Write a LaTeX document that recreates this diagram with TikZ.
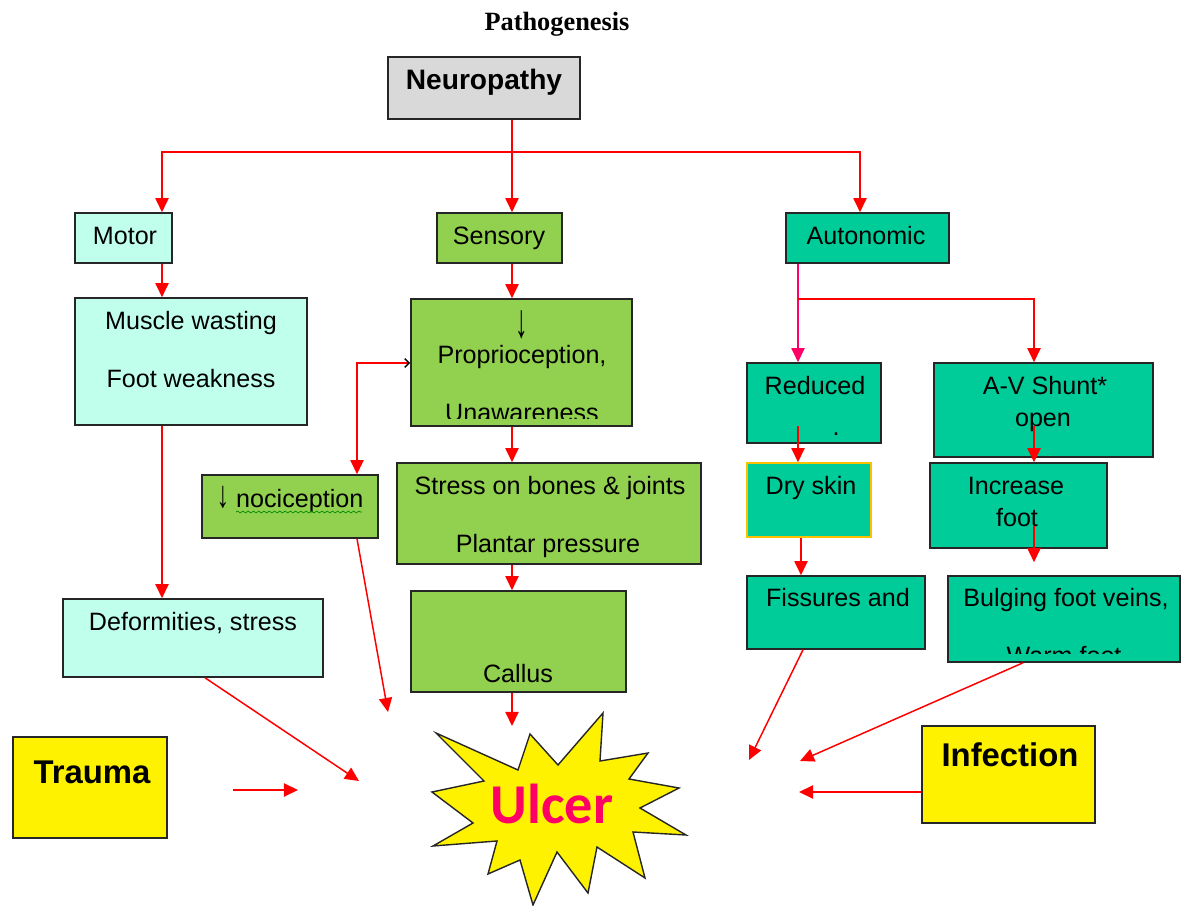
\documentclass[tikz,border=0pt]{standalone}
\usepackage{fontspec}
\setmainfont{Liberation Sans}
\newfontfamily\titlefont{Liberation Serif}
\newfontfamily\ulcerfont{Carlito}
\usetikzlibrary{arrows.meta,fit,calc,decorations.pathmorphing}

\definecolor{boxcyan}{RGB}{192,255,236}
\definecolor{boxgreen}{RGB}{146,208,80}
\definecolor{boxteal}{RGB}{0,204,153}
\definecolor{boxgray}{RGB}{217,217,217}
\definecolor{arrred}{RGB}{255,0,0}
\definecolor{arrpink}{RGB}{255,0,102}
\definecolor{skinedge}{RGB}{255,192,0}

\tikzset{
  box/.style={draw=black!85, line width=0.9pt, inner sep=0pt},
  cyanbox/.style={box, fill=boxcyan},
  greenbox/.style={box, fill=boxgreen},
  tealbox/.style={box, fill=boxteal},
  yellowbox/.style={box, fill=yellow},
  txt/.style={anchor=base, inner sep=0pt, font=\fontsize{14.3}{17}\selectfont},
  bigtxt/.style={anchor=base, inner sep=0pt, font=\fontsize{18.7}{22}\selectfont\bfseries},
  arr/.style={draw=arrred, line width=0.85pt, -{Triangle[length=8pt,width=7.5pt]}},
}
\newcommand\downarr[1]{\scalebox{1}[#1]{↓}}

\begin{document}
\begin{tikzpicture}[x=0.02cm,y=-0.02cm] % one unit = one pixel of the reference
    \fill[white] (0,0) rectangle (1181,906);
    \useasboundingbox (0,0) rectangle (1181,906);

    \node[anchor=base, inner sep=0pt, font=\titlefont\bfseries\fontsize{15}{18}\selectfont] (title) at (557,31) {Pathogenesis};

    % top row
    \node[box, fill=boxgray, fit={(388,57) (580,119)}] (neuro) {};
    \node[txt, font=\fontsize{16}{19}\selectfont\bfseries] (neuro-t) at (484,90) {Neuropathy};
    \node[cyanbox, fit={(75,213) (172,263)}] (motor) {};
    \node[txt] (motor-t) at (125,244) {Motor};
    \node[greenbox, fit={(437,213) (562,263)}] (sensory) {};
    \node[txt] (sensory-t) at (499,244) {Sensory};
    \node[tealbox, fit={(786,213) (949,263)}] (autonomic) {};
    \node[txt] (autonomic-t) at (866,244) {Autonomic};

    % motor branch
    \node[cyanbox, fit={(75,298) (307,425)}] (muscle) {};
    \node[txt] (muscle-t1) at (191,329) {Muscle wasting};
    \node[txt] (muscle-t2) at (191,387) {Foot weakness};
    \node[cyanbox, fit={(63,599) (323,677)}] (deform) {};
    \node[txt] (deform-t) at (193,630) {Deformities, stress};

    % sensory branch
    \node[greenbox, fit={(411,299) (632,426)}] (proprio) {};
    \node[txt, anchor=center] (proprio-t0) at (522,325) {\downarr{1.9}};
    \node[txt] (proprio-t1) at (522,363) {Proprioception,};
    \begin{scope}
        \clip (411,299) rectangle (632,418); % the second line is cut by the box
        \node[txt] (proprio-t2) at (522,421) {Unawareness};
    \end{scope}
    \node[greenbox, fit={(202,475) (378,538)}] (noci) {};
    \node[txt] (noci-t) at (290,507) {\downarr{1.5} nociception};
    \draw[green!55!black, decorate, decoration={snake, amplitude=0.5pt, segment length=3pt}] (236,512) -- (362,512);
    \node[greenbox, fit={(397,463) (701,564)}] (stress) {};
    \node[txt] (stress-t1) at (550,494) {Stress on bones \& joints};
    \node[txt] (stress-t2) at (548,552) {Plantar pressure};
    \node[greenbox, fit={(411,591) (626,692)}] (callus) {};
    \node[txt] (callus-t) at (518,682) {Callus};

    % autonomic branch
    \node[tealbox, fit={(747,363) (881,443)}] (reduced) {};
    \node[txt] (reduced-t) at (815,394) {Reduced};
    \node[txt] (reduced-dot) at (836,435) {.};
    \node[tealbox, draw=skinedge, fit={(747,463) (871,537)}] (dry) {};
    \node[txt] (dry-t) at (811,494) {Dry skin};
    \node[tealbox, fit={(747,576) (925,649)}] (fiss) {};
    \node[txt] (fiss-t) at (838,606) {Fissures and};
    \node[tealbox, fit={(934,363) (1153,457)}] (av) {};
    \node[txt] (av-t1) at (1045,394) {A-V Shunt*};
    \node[txt] (av-t2) at (1043,426) {open};
    \node[tealbox, fit={(930,463) (1107,548)}] (inc) {};
    \node[txt] (inc-t1) at (1016,494) {Increase};
    \node[txt] (inc-t2) at (1017,526) {foot};
    \node[tealbox, fit={(948,576) (1180,662)}] (bulge) {};
    \node[txt] (bulge-t1) at (1066,606) {Bulging foot veins,};
    \begin{scope}
        \clip (948,576) rectangle (1180,653);
        \node[txt] (bulge-t2) at (1064,664) {Warm foot};
    \end{scope}

    % bottom row
    \node[yellowbox, fit={(13,737) (167,838)}] (trauma) {};
    \node[bigtxt] (trauma-t) at (92,783) {Trauma};
    \node[yellowbox, fit={(922,726) (1095,823)}] (infect) {};
    \node[bigtxt] (infect-t) at (1010,766) {Infection};

    \draw[fill=yellow, draw=black!85, line width=0.8pt] (436,733) -- (518,770) -- (530,734) -- (558,765)
        -- (603,713) -- (600,761) -- (648,753) -- (629,779) -- (679,788) -- (640,808) -- (686,835)
        -- (633,832) -- (645,878) -- (597,847) -- (588,893) -- (557,852) -- (533,905) -- (520,860)
        -- (488,874) -- (497,841) -- (433,846) -- (473,823) -- (432,792) -- (484,781) -- cycle; % the burst
    \node[anchor=base, inner sep=0pt, text=arrpink, font=\ulcerfont\bfseries\fontsize{32}{36}\selectfont] (ulcer) at (552,823) {Ulcer};

    % columns and free ends of the connectors
    \coordinate (xm) at (162,0);
    \coordinate (xs) at (512,0);
    \coordinate (xa) at (860,0);
    \coordinate (xn) at (357,0);
    \coordinate (xdf) at (205,0);
    \coordinate (xr) at (798,0);
    \coordinate (xf) at (801,0);
    \coordinate (xfs) at (803,0);
    \coordinate (xv) at (1034,0);
    \coordinate (xbg) at (1023,0);
    \coordinate (bus) at (0,152);
    \coordinate (abus) at (0,299);
    \coordinate (yp) at (0,363);
    \coordinate (yin) at (0,792);
    \coordinate (ucallus) at (512,726);
    \coordinate (unoci) at (388,712);
    \coordinate (udeform) at (359,781);
    \coordinate (tr1) at (233,790);
    \coordinate (tr2) at (298,790);
    \coordinate (ufiss) at (749,760);
    \coordinate (ubulge) at (800,761);
    \coordinate (uinf) at (799,792);

    % connectors
    \draw[arr] (neuro.south -| xs) -- (sensory.north -| xs);
    \draw[arr] (bus -| xs) -| (motor.north -| xm);
    \draw[arr] (bus -| xs) -| (autonomic.north -| xa);
    \draw[arr] (motor.south -| xm) -- (muscle.north -| xm);
    \draw[arr] (muscle.south -| xm) -- (deform.north -| xm);
    \draw[arr] (sensory.south -| xs) -- (proprio.north -| xs);
    \draw[arr] (proprio.south -| xs) -- (stress.north -| xs);
    \draw[arr] (stress.south -| xs) -- (callus.north -| xs);
    \draw[arr] (callus.south -| xs) -- (ucallus);
    \draw[arr, {Straight Barb[black,length=2.5pt,width=5pt]}-{Triangle[length=8pt,width=7.5pt]}] (proprio.west |- yp) -| (noci.north -| xn);
    \draw[arr] (noci.south -| xn) -- (unoci);
    \draw[arr] (deform.south -| xdf) -- (udeform);
    \draw[arr] (tr1) -- (tr2);
    \draw[arr, draw=arrpink] (autonomic.south -| xr) -- (reduced.north -| xr);
    \draw[arr] (abus -| xr) -| (av.north -| xv);
    \draw[arr] ($(reduced.south -| xr)+(0,-18)$) -- (dry.north -| xr);
    \draw[arr] (dry.south -| xf) -- (fiss.north -| xf);
    \draw[arr] ($(av.south -| xv)+(0,-32)$) -- (inc.north -| xv);
    \draw[arr] ($(inc.south -| xv)+(0,-23)$) -- ($(bulge.north -| xv)+(0,-13)$);
    \draw[arr] (fiss.south -| xfs) -- (ufiss);
    \draw[arr] (bulge.south -| xbg) -- (ubulge);
    \draw[arr] (infect.west |- yin) -- (uinf);
\end{tikzpicture}
\end{document}
